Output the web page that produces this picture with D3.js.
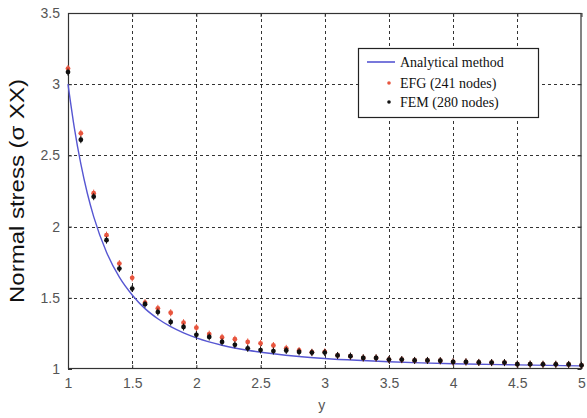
<!DOCTYPE html>
<html><head><meta charset="utf-8">
<script src="https://cdn.jsdelivr.net/npm/d3@7"></script>
<style>body{margin:0;background:#fff;}svg{display:block;}</style>
</head><body>
<script>
const xTicks = [1, 1.5, 2, 2.5, 3, 3.5, 4, 4.5, 5];
const yTicks = [1, 1.5, 2, 2.5, 3, 3.5];
const xTickLabels = ["1", "1.5", "2", "2.5", "3", "3.5", "4", "4.5", "5"];
const yTickLabels = ["1", "1.5", "2", "2.5", "3", "3.5"];

const analyticalX = [1.0, 1.05, 1.1, 1.15, 1.2, 1.3, 1.4, 1.5, 1.6, 1.7, 1.8, 1.9, 2.0, 2.2, 2.4, 2.6, 2.8, 3.0, 3.25, 3.5, 3.75, 4.0, 4.5, 5.0];
const analyticalY = [3.0, 2.69, 2.44, 2.236, 2.07, 1.82, 1.645, 1.52, 1.424, 1.353, 1.297, 1.254, 1.219, 1.167, 1.132, 1.107, 1.088, 1.074, 1.061, 1.051, 1.043, 1.037, 1.029, 1.022];

const nodeX = [1.0, 1.1, 1.2, 1.3, 1.4, 1.5, 1.6, 1.7, 1.8, 1.9, 2.0, 2.1, 2.2, 2.3, 2.4, 2.5, 2.6, 2.7, 2.8, 2.9, 3.0,
               3.1, 3.2, 3.3, 3.4, 3.5, 3.6, 3.7, 3.8, 3.9, 4.0, 4.1, 4.2, 4.3, 4.4, 4.5, 4.6, 4.7, 4.8, 4.9, 5.0];
const femY = [3.085, 2.61, 2.21, 1.905, 1.705, 1.565, 1.455, 1.40, 1.33, 1.295, 1.24, 1.225, 1.19, 1.17, 1.145, 1.133, 1.126, 1.13, 1.12, 1.115, 1.115,
              1.095, 1.09, 1.078, 1.078, 1.066, 1.066, 1.06, 1.06, 1.058, 1.05, 1.05, 1.046, 1.045, 1.045, 1.034, 1.034, 1.033, 1.033, 1.032, 1.026];
const efgY = [3.11, 2.655, 2.235, 1.94, 1.74, 1.64, 1.466, 1.426, 1.395, 1.325, 1.29, 1.245, 1.222, 1.209, 1.19, 1.18, 1.165, 1.145, 1.13, 1.118, 1.12,
              1.095, 1.09, 1.078, 1.078, 1.066, 1.066, 1.06, 1.06, 1.058, 1.05, 1.05, 1.046, 1.045, 1.045, 1.034, 1.034, 1.033, 1.033, 1.032, 1.026];

const legendLabels = ["Analytical method", "EFG (241 nodes)", "FEM (280 nodes)"];
const xLabel = "y";
const yLabel = "Normal stress (\u03c3 XX)";

const W = 587, H = 418;
const m = {left: 68, top: 13, right: 581.5, bottom: 369};

const svg = d3.select("body").append("svg").attr("width", W).attr("height", H);
const x = d3.scaleLinear().domain([1, 5]).range([m.left, m.right]);
const y = d3.scaleLinear().domain([1, 3.5]).range([m.bottom, m.top]);

// grid
const grid = svg.append("g").attr("stroke", "#333").attr("stroke-width", 1).attr("stroke-dasharray", "3,3");
grid.selectAll("line.gx").data(xTicks.slice(1, -1)).join("line")
  .attr("x1", d => Math.round(x(d)) + 0.5).attr("x2", d => Math.round(x(d)) + 0.5)
  .attr("y1", m.top).attr("y2", m.bottom);
grid.selectAll("line.gy").data(yTicks.slice(1, -1)).join("line").attr("class", "gy")
  .attr("y1", d => Math.round(y(d)) + 0.5).attr("y2", d => Math.round(y(d)) + 0.5)
  .attr("x1", m.left).attr("x2", m.right);

// axes
const fontTick = "Liberation Sans, Arial, sans-serif";
const xAxisB = d3.axisBottom(x).tickValues(xTicks).tickFormat((d, i) => xTickLabels[i]).tickSizeInner(-4).tickSizeOuter(0).tickPadding(9);
const xAxisT = d3.axisTop(x).tickValues(xTicks).tickFormat("").tickSizeInner(-4).tickSizeOuter(0);
const yAxisL = d3.axisLeft(y).tickValues(yTicks).tickFormat((d, i) => yTickLabels[i]).tickSizeInner(-4).tickSizeOuter(0).tickPadding(8);
const yAxisR = d3.axisRight(y).tickValues(yTicks).tickFormat("").tickSizeInner(-4).tickSizeOuter(0);

function style(g) {
  g.select(".domain").remove();
  g.selectAll(".tick line").attr("stroke", "#333");
  g.selectAll(".tick text").attr("fill", "#555").attr("font-size", 14).attr("font-family", fontTick);
}
svg.append("g").attr("transform", `translate(0,${m.bottom})`).call(xAxisB).call(style);
svg.append("g").attr("transform", `translate(0,${m.top})`).call(xAxisT).call(style);
svg.append("g").attr("transform", `translate(${m.left},0)`).call(yAxisL).call(style);
svg.append("g").attr("transform", `translate(${m.right},0)`).call(yAxisR).call(style);

svg.append("rect").attr("x", m.left + 0.5).attr("y", m.top + 0.5)
  .attr("width", m.right - m.left - 1).attr("height", m.bottom - m.top - 1)
  .attr("fill", "none").attr("stroke", "#333").attr("stroke-width", 1.2);

// analytical line
const line = d3.line().x(d => x(d[0])).y(d => y(d[1])).curve(d3.curveMonotoneX);
svg.append("path").datum(analyticalX.map((d, i) => [d, analyticalY[i]]))
  .attr("d", line).attr("fill", "none").attr("stroke", "#5656d2").attr("stroke-width", 1.4);

// markers
function marker(g, color, r) {
  g.append("circle").attr("r", r).attr("fill", color);
  g.append("line").attr("x1", 0).attr("x2", 0).attr("y1", -3.5).attr("y2", 3.5).attr("stroke", color).attr("stroke-width", 1);
}
const efg = svg.append("g").selectAll("g").data(nodeX.map((d, i) => [d, efgY[i]])).join("g")
  .attr("transform", d => `translate(${x(d[0])},${y(d[1])})`);
efg.each(function() { marker(d3.select(this), "#e8553e", 2.4); });
const fem = svg.append("g").selectAll("g").data(nodeX.map((d, i) => [d, femY[i]])).join("g")
  .attr("transform", d => `translate(${x(d[0])},${y(d[1])})`);
fem.each(function() { marker(d3.select(this), "#111", 2.4); });

// axis labels
svg.append("text").attr("x", x(3) - 3).attr("y", 410).attr("text-anchor", "middle")
  .attr("font-family", fontTick).attr("font-size", 14).attr("fill", "#555").text(xLabel);
svg.append("text").attr("transform", `translate(24,${(303 + 79) / 2}) rotate(-90)`)
  .attr("text-anchor", "middle").attr("font-family", fontTick).attr("font-size", 20).attr("fill", "#111")
  .attr("textLength", 224).attr("lengthAdjust", "spacingAndGlyphs").text(yLabel);

// legend
const lg = svg.append("g");
lg.append("rect").attr("x", 358.5).attr("y", 48.5).attr("width", 180).attr("height", 69)
  .attr("fill", "#fff").attr("stroke", "#222").attr("stroke-width", 1.2);
const rows = [62, 83, 102];
lg.append("line").attr("x1", 367).attr("x2", 395).attr("y1", rows[0]).attr("y2", rows[0])
  .attr("stroke", "#5656d2").attr("stroke-width", 1.6);
lg.append("circle").attr("cx", 389).attr("cy", rows[1]).attr("r", 1.8).attr("fill", "#e8553e");
lg.append("circle").attr("cx", 389).attr("cy", rows[2]).attr("r", 1.8).attr("fill", "#111");
lg.selectAll("text").data(legendLabels).join("text")
  .attr("x", 400).attr("y", (d, i) => rows[i] + 5)
  .attr("font-family", "Liberation Serif, Times New Roman, serif").attr("font-size", 14).attr("fill", "#111")
  .text(d => d);
</script>
</body></html>
